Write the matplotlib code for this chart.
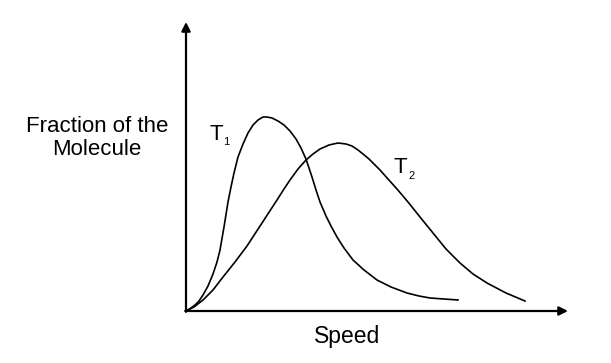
import matplotlib.pyplot as plt

plt.rcParams['font.family'] = ['Liberation Sans', 'DejaVu Sans']

# curve points (speed, fraction), arbitrary units
t1_speed = [0, 5, 9, 13, 17, 22, 27, 31, 34, 38, 42, 45, 48, 52, 57, 62, 67, 72, 77, 81,
            86, 92, 98, 104, 110, 115, 120, 126, 130, 134, 140, 145, 151, 158, 167, 178,
            191, 205, 221, 233, 244, 258, 272]
t1_frac = [0, 3, 6, 10, 16, 25, 37, 49, 61, 84, 109, 124, 138, 154, 167, 178, 186, 191, 194, 194,
           193, 190, 186, 180, 172, 163, 152, 134, 121, 109, 95, 85, 74, 63, 51, 41,
           31, 24, 18, 15, 13, 12, 11]

t2_speed = [0, 8, 17, 27, 37, 49, 61, 76, 91, 98, 104, 112, 120, 127, 134, 143, 152, 160, 166,
            172, 177, 183, 187, 194, 202, 211, 222, 234, 247, 260, 274, 287, 301, 320, 339]
t2_frac = [0, 4, 11, 21, 34, 49, 65, 88, 111, 122, 131, 142, 151, 157, 162, 166, 168, 167, 165,
           161, 157, 152, 148, 141, 132, 122, 109, 94, 78, 62, 48, 37, 28, 18, 10]

fig = plt.figure(figsize=(6.11, 3.63), dpi=100)
ax = fig.add_axes([0, 0, 1, 1])
ax.set_xlim(-186, 425)
ax.set_ylim(-52, 311)
ax.axis('off')

ax.plot(t1_speed, t1_frac, color='black', lw=1.2, solid_joinstyle='round')
ax.plot(t2_speed, t2_frac, color='black', lw=1.2, solid_joinstyle='round')

# axes with arrow heads
arrow = dict(arrowstyle='-|>', lw=1.6, color='black', mutation_scale=13, shrinkA=0, shrinkB=0)
ax.annotate('', xy=(0, 289), xytext=(0, -0.8), arrowprops=arrow)
ax.annotate('', xy=(382, 0), xytext=(-0.8, 0), arrowprops=arrow)

# labels
ax.text(-89, 173, 'Fraction of the\nMolecule', fontsize=16, ha='center', va='center',
        linespacing=1.12)
ax.text(161, -25, 'Speed', fontsize=16.5, ha='center', va='center')

ax.text(23, 171, 'T', fontsize=16, ha='left', va='baseline')
ax.text(37, 166, '1', fontsize=8, ha='left', va='baseline')
ax.text(208, 138, 'T', fontsize=16, ha='left', va='baseline')
ax.text(222, 132, '2', fontsize=8, ha='left', va='baseline')

fig.savefig('out.png', dpi=100)
